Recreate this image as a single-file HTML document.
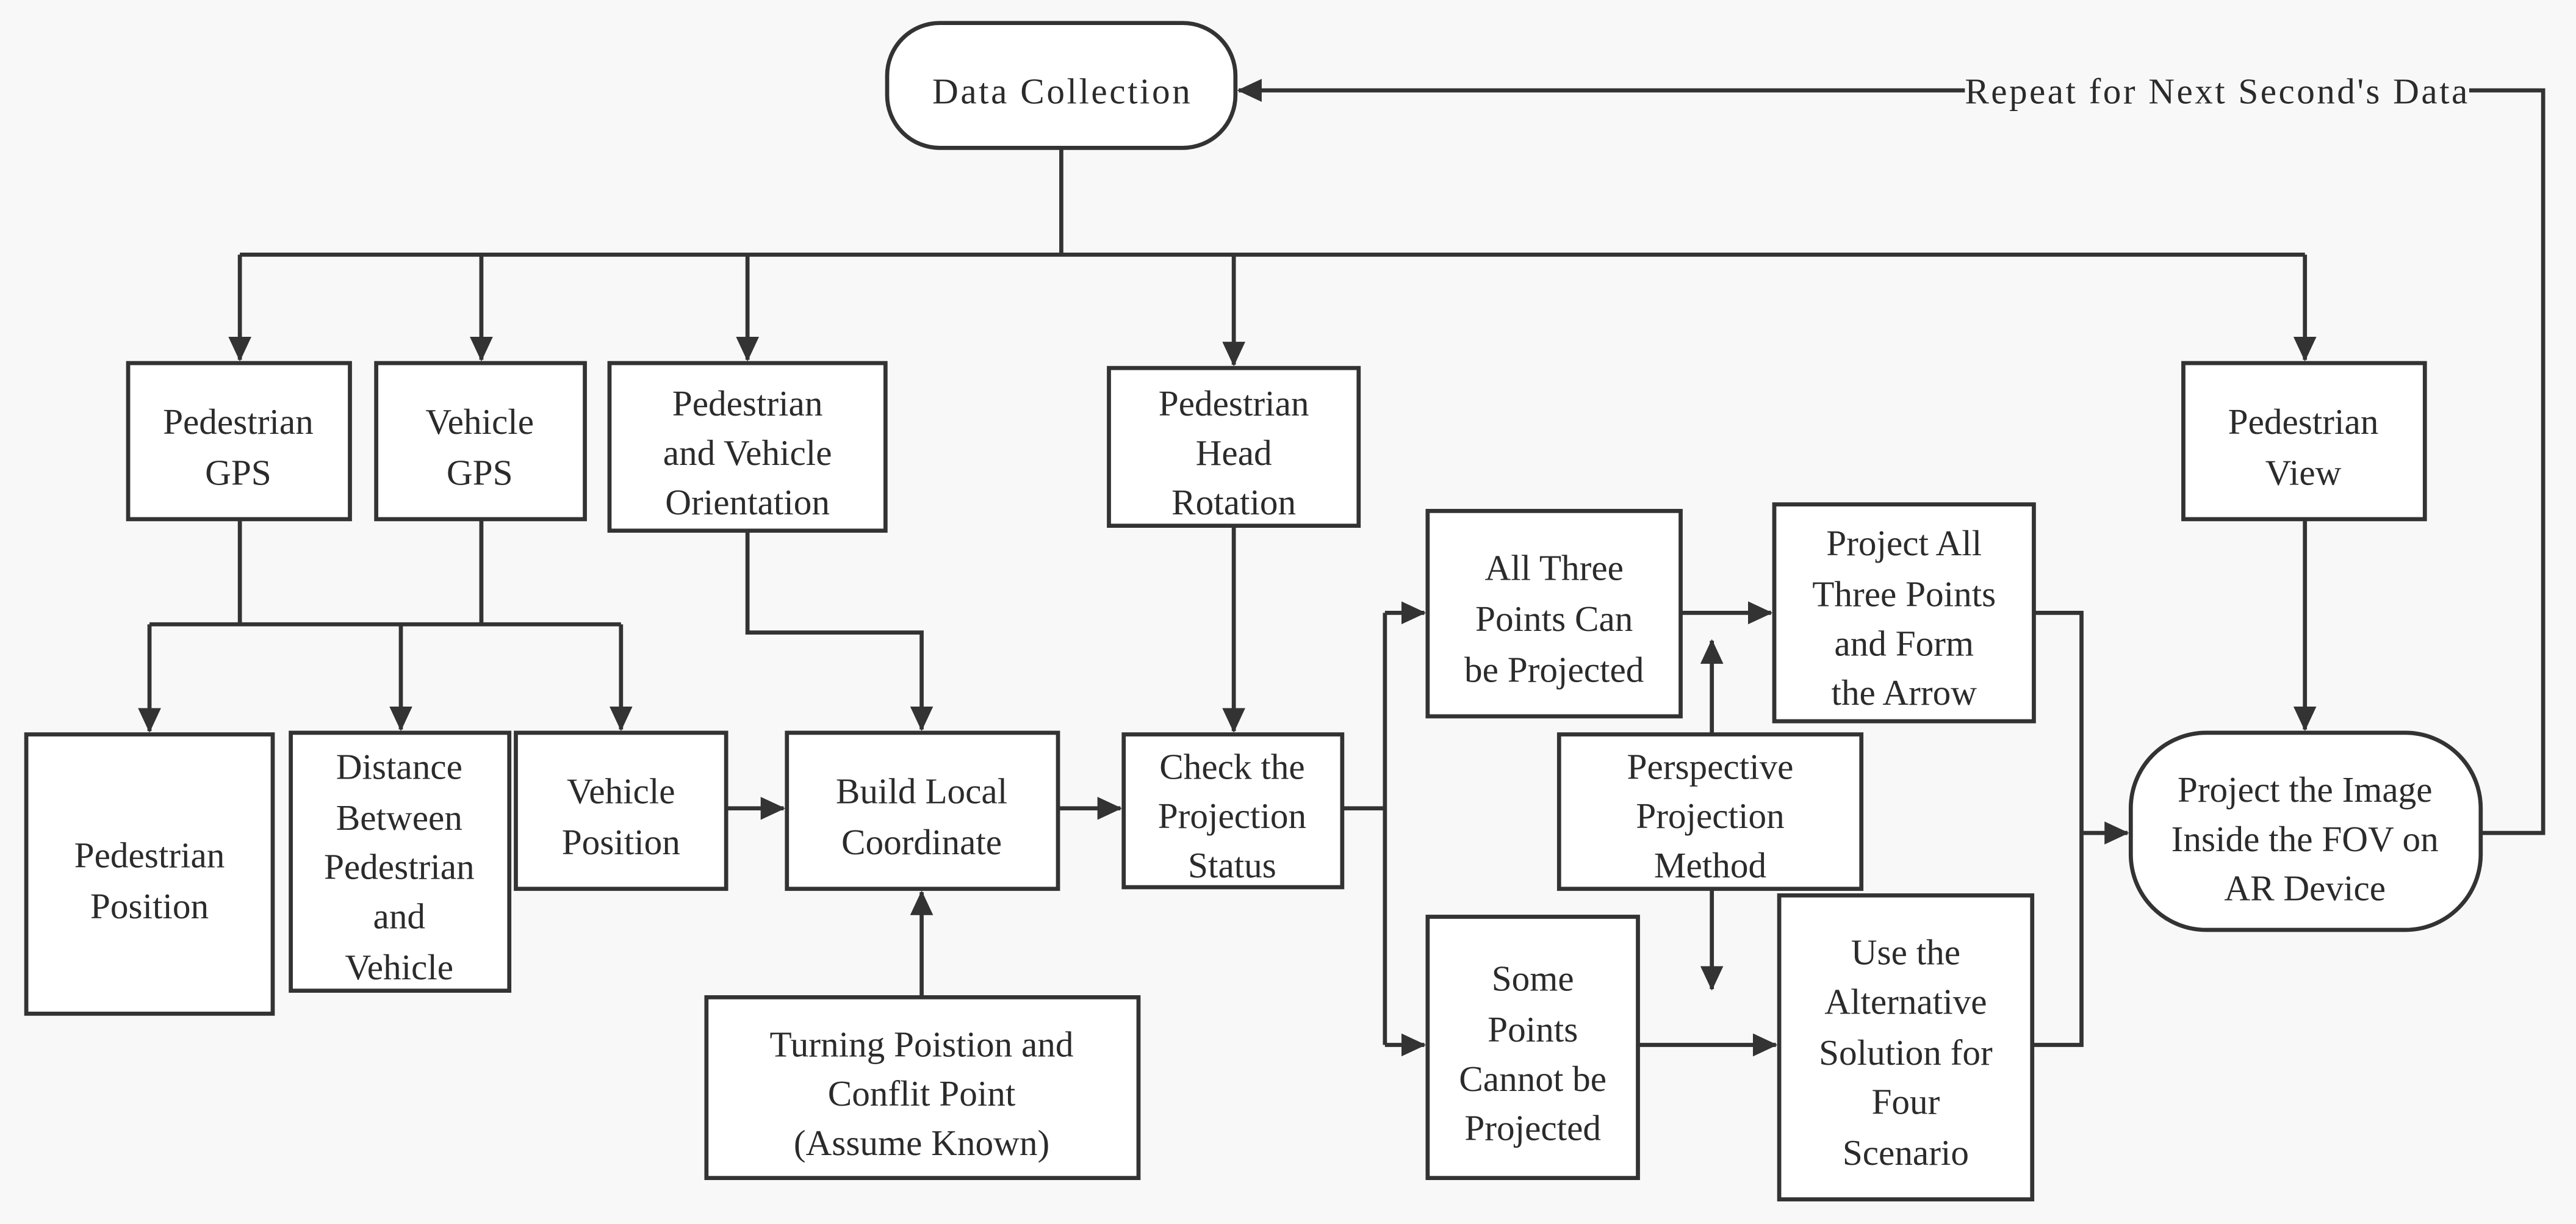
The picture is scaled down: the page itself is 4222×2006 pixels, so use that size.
<!DOCTYPE html>
<html><head><meta charset="utf-8"><style>
html,body{margin:0;padding:0;background:#f8f8f8;}
svg{display:block;}
svg text{font-family:"Liberation Serif","Times New Roman","DejaVu Serif",serif;font-size:22px;fill:#2b2b2b;text-anchor:middle;}
</style></head><body>
<svg width="4222" height="2006" viewBox="0 0 1568 745" preserveAspectRatio="none" xmlns="http://www.w3.org/2000/svg">
<defs>
<marker id="b" markerWidth="16" markerHeight="14" refX="14" refY="7" orient="auto" markerUnits="userSpaceOnUse"><path d="M0,0 L15,7 L0,14 z" fill="#333"/></marker></defs>
<rect width="1568" height="745" fill="#f8f8f8"/>
<g fill="#fff" stroke="#333" stroke-width="2.5">
<rect x="540" y="14" width="212" height="76" rx="32"/>
<rect x="78" y="221" width="135" height="95"/>
<rect x="229" y="221" width="127" height="95"/>
<rect x="371" y="221" width="168" height="102"/>
<rect x="675" y="224" width="152" height="96"/>
<rect x="1329" y="221" width="147" height="95"/>
<rect x="16" y="447" width="150" height="170"/>
<rect x="177" y="446" width="133" height="157"/>
<rect x="314" y="446" width="128" height="95"/>
<rect x="479" y="446" width="165" height="95"/>
<rect x="684" y="447" width="133" height="93"/>
<rect x="869" y="311" width="154" height="125"/>
<rect x="1080" y="307" width="158" height="132"/>
<rect x="949" y="447" width="184" height="94"/>
<rect x="869" y="558" width="128" height="159"/>
<rect x="1083" y="545" width="154" height="185"/>
<rect x="430" y="607" width="263" height="110"/>
<rect x="1297" y="446" width="213" height="120" rx="46"/>
</g>
<g fill="none" stroke="#333" stroke-width="2.5">
<path d="M646,90 V155 M146,155 H1403"/>
<path d="M146,155 V219" marker-end="url(#b)"/>
<path d="M293,155 V219" marker-end="url(#b)"/>
<path d="M455,155 V219" marker-end="url(#b)"/>
<path d="M751,155 V222" marker-end="url(#b)"/>
<path d="M1403,155 V219" marker-end="url(#b)"/>
<path d="M146,316 V380 M293,316 V380 M91,380 H378"/>
<path d="M91,380 V445" marker-end="url(#b)"/>
<path d="M244,380 V444" marker-end="url(#b)"/>
<path d="M378,380 V444" marker-end="url(#b)"/>
<path d="M455,323 V385 H561 V444" marker-end="url(#b)"/>
<path d="M751,320 V445" marker-end="url(#b)"/>
<path d="M442,492 H477" marker-end="url(#b)"/>
<path d="M644,492 H682" marker-end="url(#b)"/>
<path d="M561,607 V543" marker-end="url(#b)"/>
<path d="M817,492 H843 M843,373 V636"/>
<path d="M843,373 H867" marker-end="url(#b)"/>
<path d="M843,636 H867" marker-end="url(#b)"/>
<path d="M1023,373 H1078" marker-end="url(#b)"/>
<path d="M1042,447 V390" marker-end="url(#b)"/>
<path d="M1042,541 V602" marker-end="url(#b)"/>
<path d="M997,636 H1081" marker-end="url(#b)"/>
<path d="M1238,373 H1267 V636 H1237"/>
<path d="M1267,507 H1295" marker-end="url(#b)"/>
<path d="M1403,316 V444" marker-end="url(#b)"/>
<path d="M1510,507 H1548 V55 H754" marker-end="url(#b)"/>
</g>
<rect x="1196" y="42" width="307" height="26" fill="#f8f8f8"/>
<text x="1349" y="63" textLength="306">Repeat for Next Second's Data</text>
<text x="646" y="63" textLength="157">Data Collection</text>
<text x="145" y="264">Pedestrian</text><text x="145" y="295">GPS</text>
<text x="292" y="264">Vehicle</text><text x="292" y="295">GPS</text>
<text x="455" y="253">Pedestrian</text><text x="455" y="283">and Vehicle</text><text x="455" y="313">Orientation</text>
<text x="751" y="253">Pedestrian</text><text x="751" y="283">Head</text><text x="751" y="313">Rotation</text>
<text x="1402" y="264">Pedestrian</text><text x="1402" y="295">View</text>
<text x="91" y="528">Pedestrian</text><text x="91" y="559">Position</text>
<text x="243" y="474">Distance</text><text x="243" y="505">Between</text><text x="243" y="535">Pedestrian</text><text x="243" y="565">and</text><text x="243" y="596">Vehicle</text>
<text x="378" y="489">Vehicle</text><text x="378" y="520">Position</text>
<text x="561" y="489">Build Local</text><text x="561" y="520">Coordinate</text>
<text x="750" y="474">Check the</text><text x="750" y="504">Projection</text><text x="750" y="534">Status</text>
<text x="946" y="353">All Three</text><text x="946" y="384">Points Can</text><text x="946" y="415">be Projected</text>
<text x="1159" y="338">Project All</text><text x="1159" y="369">Three Points</text><text x="1159" y="399">and Form</text><text x="1159" y="429">the Arrow</text>
<text x="1041" y="474">Perspective</text><text x="1041" y="504">Projection</text><text x="1041" y="534">Method</text>
<text x="933" y="603">Some</text><text x="933" y="634">Points</text><text x="933" y="664">Cannot be</text><text x="933" y="694">Projected</text>
<text x="1160" y="587">Use the</text><text x="1160" y="617">Alternative</text><text x="1160" y="648">Solution for</text><text x="1160" y="678">Four</text><text x="1160" y="709">Scenario</text>
<text x="561" y="643">Turning Poistion and</text><text x="561" y="673">Conflit Point</text><text x="561" y="703">(Assume Known)</text>
<text x="1403" y="488">Project the Image</text><text x="1403" y="518">Inside the FOV on</text><text x="1403" y="548">AR Device</text>
</svg>
</body></html>
